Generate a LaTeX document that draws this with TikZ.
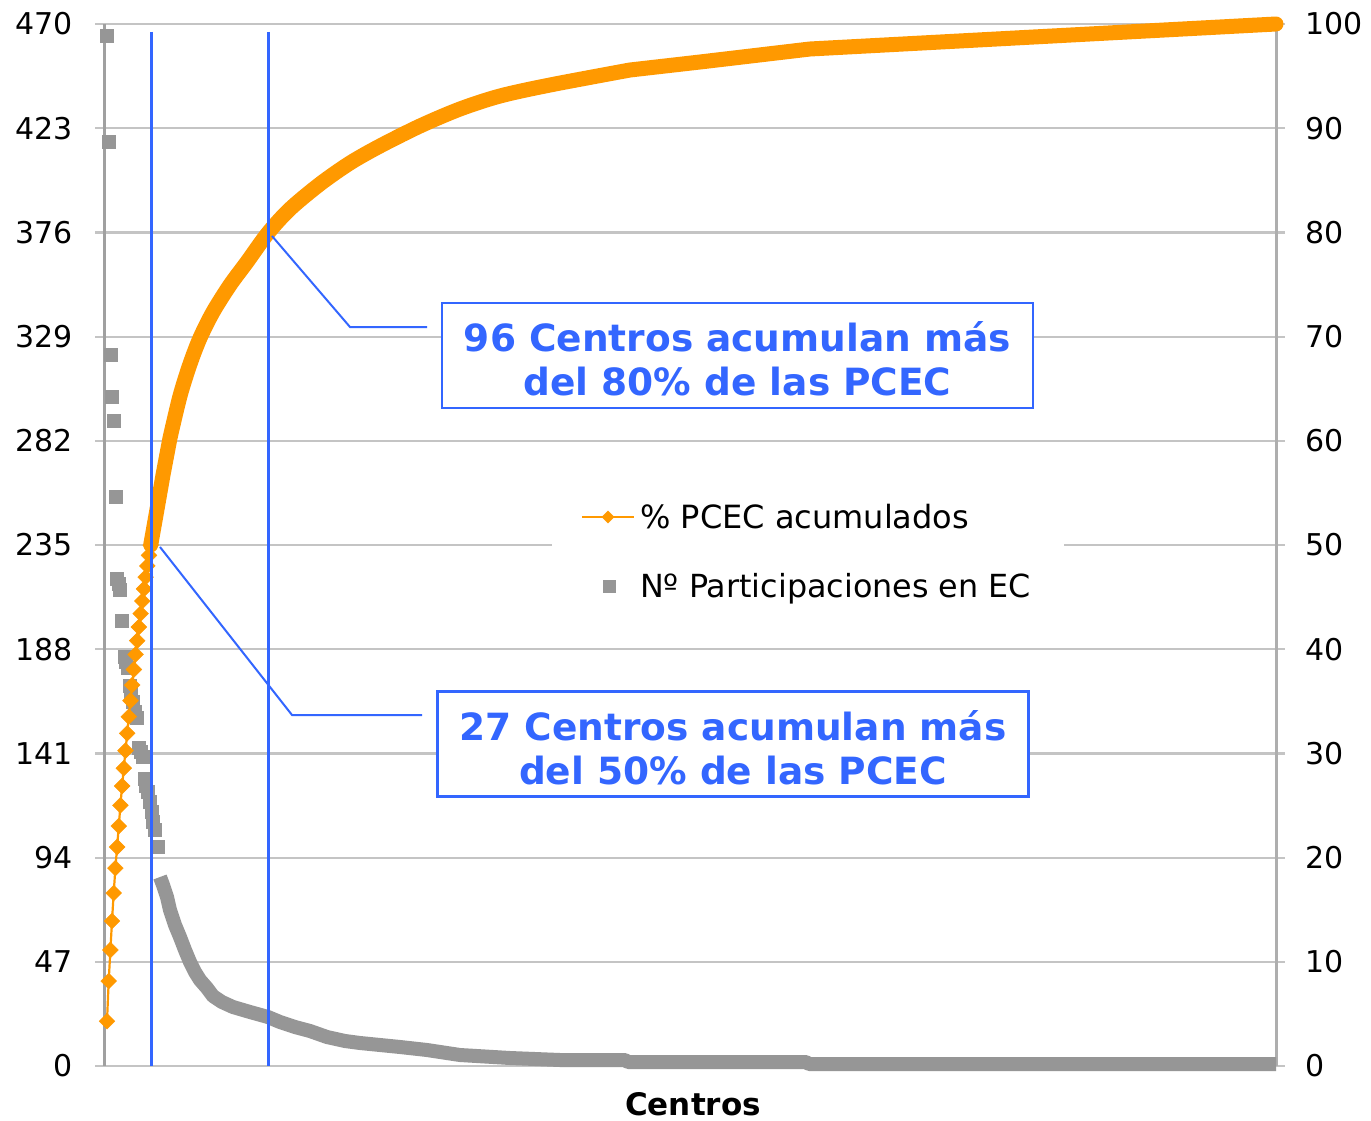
\documentclass[tikz,border=0pt]{standalone}
\usepackage{fontspec}
\setmainfont{DejaVu Sans}
\usetikzlibrary{plotmarks}
\definecolor{orng}{HTML}{FF9900}
\definecolor{grayd}{HTML}{969696}
\definecolor{gridc}{HTML}{C4C4C4}
\definecolor{axisc}{HTML}{A0A0A0}
\definecolor{blu}{HTML}{3366FF}
\begin{document}
\begin{tikzpicture}[x=1pt,y=-1pt,
  gridline/.style={draw=gridc, line width=2.2pt},
  axisline/.style={draw=axisc, line width=3pt},
  ticklab/.style={font=\fontsize{30}{36}\selectfont, inner sep=0pt},
  vline/.style={draw=blu, line width=3pt},
  callout/.style={draw=blu, line width=2pt},
  notebox/.style={draw=blu, line width=2.2pt, fill=white, minimum width=591pt, minimum height=105pt, inner sep=0pt},
  notetext/.style={align=center, text=blu, font=\fontsize{37.5}{44}\selectfont\bfseries, inner sep=0pt},
  legtext/.style={font=\fontsize{32}{36}\selectfont, anchor=base west, inner sep=0pt}
]
\useasboundingbox (0,0) rectangle (1371,1121);
\fill[white] (0,0) rectangle (1371,1121);

% grid lines and tick labels
\foreach \k in {0,...,10}{
  \draw[gridline] (95,{1066-\k*104.2}) -- (1285,{1066-\k*104.2});
}
\foreach \k/\v in {0/0,1/47,2/94,3/141,4/188,5/235,6/282,7/329,8/376,9/423,10/470}{
  \node[ticklab, anchor=east] (l\k) at (73,{1066-\k*104.2}) {\v};
}
\foreach \k/\v in {0/0,1/10,2/20,3/30,4/40,5/50,6/60,7/70,8/80,9/90,10/100}{
  \node[ticklab, anchor=west] (r\k) at (1305,{1066-\k*104.2}) {\v};
}

% legend background
\fill[white] (552,470) rectangle (1064,625);

% axes
\draw[axisline] (104,24) -- (104,1066);
\draw[axisline, draw=axisc!85] (1276,24) -- (1276,1066);

% gray series (dense part)
\draw[grayd, line width=14pt, line join=round, line cap=square]
  plot coordinates {(160,877) (163,885) (167,897) (170,910) (175,925) (180,937) (185,950) (190,962) (195,972) (200,980) (207,988) (213,996) (222,1002) (233,1007) (250,1012) (268,1017) (280,1022) (295,1027) (310,1031) (327,1037) (345,1041) (360,1043) (400,1047) (427,1050) (460,1055) (510,1058) (560,1060) (625,1060) (628,1062) (806,1062) (809,1064) (1276,1064)};
% gray series (first markers)
\path[draw=grayd, fill=grayd] plot[only marks, mark=square*, mark size=6.5pt]
  coordinates {(106.5,36) (108.5,142) (110.5,355) (112,397) (114,421) (116,497) (116.5,579) (118.5,584) (120,590) (122,621) (124.5,657) (126,662) (127.5,668) (129.5,686) (131,693) (132.5,702) (134.5,712) (136.5,718) (138.5,748) (140.5,752) (142.5,757) (144.5,779) (146,786) (148,792) (150,802) (151.5,812) (153,822) (155,830) (158,847)};

% orange series
\draw[orng, line width=2.2pt]
  plot coordinates {(107,1021.2) (108.7,981) (110.4,950) (112,921) (113.7,893) (115.4,868.1) (117.1,847) (118.8,826) (120.4,805.3) (122.1,786) (123.8,768.2) (125.5,750.6) (127.2,733.3) (128.8,716.7) (130.5,700.6) (132.2,685) (133.9,669.5) (135.6,654.4) (137.2,640.7) (138.9,627) (140.6,613.6) (142.3,601) (144,588.9) (145.6,577.1) (147.3,565.9) (149,555.3) (150.7,545)};
\path[draw=orng, fill=orng] plot[only marks, mark=square*, mark size=5.6pt, mark options={rotate=45}]
  coordinates {(107,1021.2) (108.7,981) (110.4,950) (112,921) (113.7,893) (115.4,868.1) (117.1,847) (118.8,826) (120.4,805.3) (122.1,786) (123.8,768.2) (125.5,750.6) (127.2,733.3) (128.8,716.7) (130.5,700.6) (132.2,685) (133.9,669.5) (135.6,654.4) (137.2,640.7) (138.9,627) (140.6,613.6) (142.3,601) (144,588.9) (145.6,577.1) (147.3,565.9) (149,555.3) (150.7,545)};
\draw[orng, line width=15pt, line join=round, line cap=round]
  (150.7,545) -- (156,515) -- (163,475) -- (170,438)
  plot[smooth, tension=0.5] coordinates {(170,438) (180,396) (190,364) (200,338) (213,312) (230,285) (247,262) (268,233) (290,209) (320,184) (350,163) (380,146) (420,126) (460,109) (500,96) (550,85) (630,70)}
  -- (700,62) -- (810,49) -- (1276,24);

% vertical marker lines
\coordinate (v1t) at (151,32);
\coordinate (v1b) at (151,1066);
\coordinate (v2t) at (268,32);
\coordinate (v2b) at (268,1066);
\draw[vline] (v1t) -- (v1b);
\draw[vline] (v2t) -- (v2b);

% legend
\coordinate (lg1a) at (582,517);
\coordinate (lg1b) at (634,517);
\draw[orng, line width=2.2pt] (lg1a) -- (lg1b);
\path[draw=orng, fill=orng] plot[only marks, mark=square*, mark size=4.3pt, mark options={rotate=45}] coordinates {(608,517)};
\node[legtext] (lgt1) at (640,528) {\% PCEC acumulados};
\path[draw=grayd, fill=grayd] plot[only marks, mark=square*, mark size=5.8pt] coordinates {(609,586)};
\node[legtext, font=\fontsize{31.8}{36}\selectfont] (lgt2) at (640,597) {Nº Participaciones en EC};

% callouts
\node[notebox] (box1) at (737.5,355.5) {};
\node[notetext] (t1) at (737.5,359) {96 Centros acumulan más\\del 80\% de las PCEC};
\coordinate (c1a) at (427,327);
\coordinate (c1b) at (350,327);
\coordinate (c1c) at (272,236);
\draw[callout] (c1a) -- (c1b) -- (c1c);

\node[notebox] (box2) at (733,744) {};
\node[notetext] (t2) at (733,748) {27 Centros acumulan más\\del 50\% de las PCEC};
\coordinate (c2a) at (422,715);
\coordinate (c2b) at (292,715);
\coordinate (c2c) at (160,547);
\draw[callout] (c2a) -- (c2b) -- (c2c);

% axis title
\node[font=\fontsize{31}{36}\selectfont\bfseries, anchor=base, inner sep=0pt] (xt) at (693,1115) {Centros};
\end{tikzpicture}
\end{document}
